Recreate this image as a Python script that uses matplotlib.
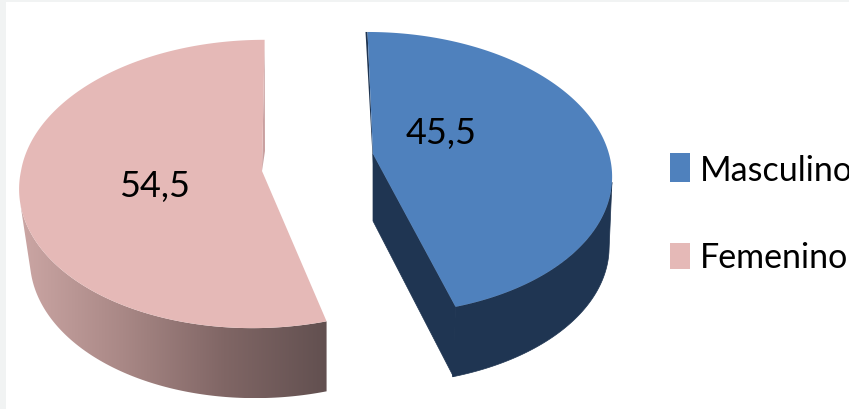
import numpy as np
import matplotlib
matplotlib.use('Agg')
import matplotlib.pyplot as plt
from matplotlib.patches import Polygon, Rectangle

categories = ['Masculino', 'Femenino']
values = [45.5, 54.5]
value_labels = ['45,5', '54,5']

colors = ['#4f81bd', '#e5b9b7']
bg_frame = '#f1f3f3'
blue_side = '#1f3552'
pink_sliver = '#c9a0a0'

plt.rcParams['font.family'] = ['Lato', 'DejaVu Sans']

fig = plt.figure(figsize=(8.49, 4.10), dpi=100, facecolor=bg_frame)
ax = fig.add_axes([0, 0, 1, 1])
ax.set_xlim(0, 849)
ax.set_ylim(410, 0)
ax.axis('off')
ax.add_patch(Rectangle((6, 3), 843, 407, fc='white', ec='none', zorder=0))


# disco inclinado: perspectiva simple sobre el circulo unidad
def project(theta, cx, cy, a, b, k, s_up, s_down):
    x = np.cos(theta)
    y = np.sin(theta)
    px = a * x / (1 + k * y)
    py = b * y / (1 + k * y)
    return cx + px + np.where(py > 0, s_up, s_down) * py, cy - py


# angulos de los sectores, en sentido horario desde las 12
cut = np.pi / 2 - 2 * np.pi * values[0] / sum(values)

# Masculino
cx, cy, a, b, k, s, depth = 373, 155, 236, 138.5, 0.135, -0.045, 70
t_top = np.linspace(np.pi / 2, cut, 200)
ax_, ay_ = project(t_top, cx, cy, a, b, k, s, s)
t_side = np.linspace(-0.2, cut, 100)
sx, sy = project(t_side, cx, cy, a, b, k, s, s)
side = np.r_[np.c_[sx, sy], np.c_[sx[::-1] - 3, sy[::-1] + depth]]
ax.add_patch(Polygon(side, fc=blue_side, ec=blue_side, lw=0.5, zorder=2))
ex, ey = ax_[-1], ay_[-1]
cut_face = [(cx, cy), (ex, ey), (ex - 2, ey + depth), (cx, cy + depth - 3)]
ax.add_patch(Polygon(cut_face, fc=blue_side, ec=blue_side, lw=0.5, zorder=2))
sliver = [(ax_[0], ay_[0]), (cx, cy), (cx, cy + 10), (ax_[0] - 2, ay_[0])]
ax.add_patch(Polygon(sliver, fc=blue_side, ec='none', zorder=2))
top = np.r_[[(cx, cy)], np.c_[ax_, ay_]]
ax.add_patch(Polygon(top, fc=colors[0], ec='none', zorder=3))

# Femenino
cx, cy, a, b, k, depth = 262, 172, 241, 143, 0.09, 70
s_up, s_down = 0.02, 0.06
t_top = np.linspace(np.pi / 2, cut + 2 * np.pi, 200)[::-1]
px_, py_ = project(t_top, cx, cy, a, b, k, s_up, s_down)
t_side = np.linspace(np.pi + 0.22, cut + 2 * np.pi, 120)
sx, sy = project(t_side, cx, cy, a, b, k, s_up, s_down)
# el borde inferior es algo mas estrecho que el superior
bx = cx + (sx - cx) * 0.965
bx = bx + (sx[-1] - bx[-1])
side = np.r_[np.c_[sx, sy], np.c_[bx[::-1], sy[::-1] + depth]]
grad_cmap = matplotlib.colors.LinearSegmentedColormap.from_list(
    'pink_side', ['#cba6a4', '#a98886', '#806665', '#625050'])
img = ax.imshow(np.linspace(0, 1, 256)[None, :], cmap=grad_cmap, aspect='auto',
                extent=(sx.min(), sx.max(), side[:, 1].max(), side[:, 1].min()), zorder=2)
ax.set_xlim(0, 849)
ax.set_ylim(410, 0)
clip = Polygon(side, transform=ax.transData, fc='none', ec='none')
ax.add_patch(clip)
img.set_clip_path(clip)
sliver = [(px_[-1], py_[-1]), (cx, cy), (cx + 3, cy - 20), (px_[-1], py_[-1])]
ax.add_patch(Polygon(sliver, fc=pink_sliver, ec='none', zorder=2))
top = np.r_[[(cx, cy)], np.c_[px_, py_]]
ax.add_patch(Polygon(top, fc=colors[1], ec='none', zorder=3))

# etiquetas de valor
ax.text(441, 134, value_labels[0], fontsize=26, ha='center', va='center', color='black', zorder=5)
ax.text(155, 187, value_labels[1], fontsize=26, ha='center', va='center', color='black', zorder=5)

# leyenda
ax.add_patch(Rectangle((670, 154), 20, 29, fc=colors[0], ec='none'))
ax.add_patch(Rectangle((670, 244), 20, 26, fc=colors[1], ec='none'))
ax.text(700, 171, categories[0], fontsize=24.5, ha='left', va='center', color='black', clip_on=False)
ax.text(700, 258, categories[1], fontsize=24.5, ha='left', va='center', color='black', clip_on=False)

fig.savefig('out.png', dpi=100, facecolor=fig.get_facecolor())
